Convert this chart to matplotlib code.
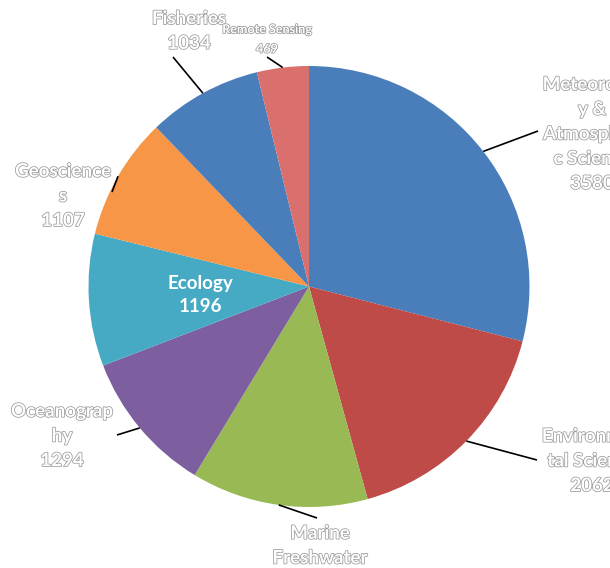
import matplotlib
matplotlib.use("Agg")
import matplotlib.pyplot as plt
import matplotlib.patheffects as pe
import numpy as np

# Data (clockwise from 12 o'clock)
labels = ["Meteorolog\ny &\nAtmospheri\nc Science", "Environmen\ntal Science",
          "Marine\nFreshwater", "Oceanograp\nhy", "Ecology", "Geoscience\ns",
          "Fisheries", "Remote Sensing"]
values = [3580, 2062, 1600, 1294, 1196, 1107, 1034, 469]
colors = ["#4a7ebb", "#be4b48", "#98b954", "#7d5fa0", "#46aac5", "#f79646",
          "#4a7ebb", "#d9706e"]

# Layout in pixels (origin top-left)
center = (309, 286.5)
radius = 220.5
label_pos = [(592, 134), (592, 461), (320, 558), (62, 436), (200, 295),
             (63, 196), (189, 31), (267, 39)]
line_end = [(538, 131), (537, 460), (317, 518), (117, 435), None,
            (112, 192), (173, 57), (267, 57)]

fig = plt.figure(figsize=(6.1, 5.68), dpi=100)
ax = fig.add_axes([0, 0, 1, 1])

wedges, _ = ax.pie(values, colors=colors, startangle=-90, counterclock=True,
                   center=center, radius=radius,
                   wedgeprops=dict(linewidth=0))
ax.set_xlim(0, 610)
ax.set_ylim(568, 0)
ax.set_aspect("equal")
ax.axis("off")

outline = [pe.withStroke(linewidth=1.1, foreground="#9a9a9a")]

for i, w in enumerate(wedges):
    txt = labels[i] + "\n" + str(values[i])
    x, y = label_pos[i]
    if line_end[i] is None:
        ax.text(x, y, txt, ha="center", va="center", fontsize=13.5,
                fontweight="bold", family="Lato", color="white",
                linespacing=1.45)
        continue
    mid = np.deg2rad((w.theta1 + w.theta2) / 2)
    sx = center[0] + radius * np.cos(mid)
    sy = center[1] + radius * np.sin(mid)
    ex, ey = line_end[i]
    ax.plot([sx, ex], [sy, ey], color="black", lw=1.2, solid_capstyle="butt")
    small = i == 7
    ax.text(x, y, txt, ha="center", va="center", fontsize=9 if small else 13.5,
            fontweight="bold", family="Lato", color="white",
            linespacing=1.75 if small else 1.55, path_effects=outline)

fig.savefig("out.png", dpi=100)
